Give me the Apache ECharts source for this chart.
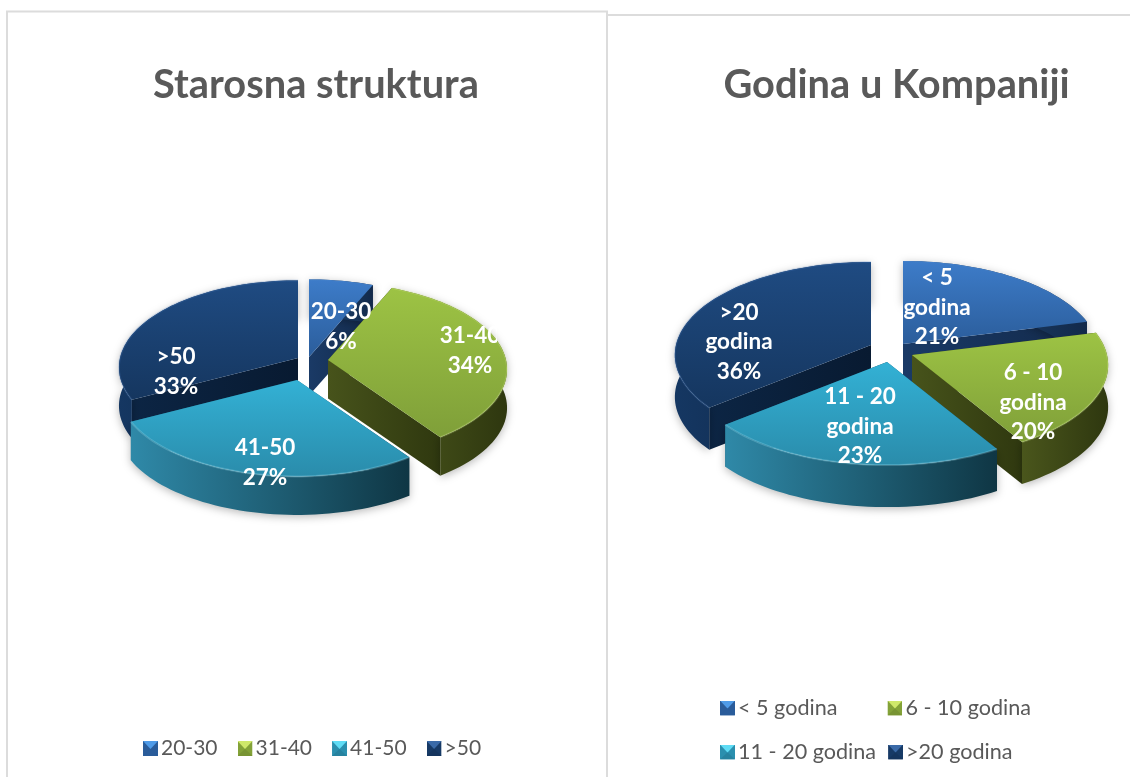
<!DOCTYPE html>
<html>
<head>
<meta charset="utf-8">
<style>html,body{margin:0;padding:0;background:#fff}#c{width:1130px;height:777px}</style>
<script src="https://cdn.jsdelivr.net/npm/echarts@6/dist/echarts.min.js"></script>
</head>
<body>
<div id="c"></div>
<script>
// ---- data (slice shares; labels show them rounded) ----
const ageTitle = 'Starosna struktura';
const ageCategories = ['20-30', '31-40', '41-50', '>50'];
const ageValues = [6.45, 33.8, 27.1, 32.65];
const tenureTitle = 'Godina u Kompaniji';
const tenureCategories = ['< 5 godina', '6 - 10 godina', '11 - 20 godina', '>20 godina'];
const tenureValues = [21, 20.45, 22.6, 35.95];

// ---- look (one entry per colour slot) ----
const palette = [
  {top: ['#3d7cc9', '#2b5d9b'], cut: ['#1a3a66', '#12294a'], wall: ['#24507f', '#12294a'], rim: 'rgba(255,255,255,0.03)', mark: ['#4f9be8', '#2a5c9a', '#2a5c9a']},
  {top: ['#9dc344', '#7f9f39'], cut: ['#47531b', '#2f380f'], wall: ['#4a561c', '#2e370f'], rim: 'rgba(225,245,150,0.22)', mark: ['#cfe86a', '#83a238', '#789433']},
  {top: ['#33b1d5', '#2a8cab'], cut: ['#1d6a84', '#123f50'], wall: ['#2f89a8', '#0f3644'], rim: 'rgba(170,235,250,0.25)', mark: ['#5fdcf5', '#2a8fae', '#26829f']},
  {top: ['#1f4b82', '#15365f'], cut: ['#0c2544', '#081a31'], wall: ['#153762', '#0b2342'], rim: 'rgba(80,130,200,0.2)', mark: ['#3a6aa8', '#173a66', '#15355e']}
];

// ---- layout of the two tilted pies ----
const agePie = {
  R: 178, Q: 86, p: 0.108, depth: 38.5,
  apex: [[309, 357], [328, 360], [297, 380], [298, 358]],
  label: [[341, 326.5], [470, 350.5], [265, 462.5], [176, 371.5]],
  clip: [null, [420, 300, 77, 90], null, null],
  order: [0, 2, 3, 1]          // painter's position of each slice
};
const tenurePie = {
  R: 195, Q: 92, p: 0.108, depth: 42,
  apex: [[903, 344], [912, 355], [887, 362], [871, 345]],
  label: [[937, 307.5], [1033, 402.5], [860, 426.5], [739, 342]],
  clip: [[903, 260, 100, 100], null, null, null],
  order: [0, 2, 3, 1]
};

function grad(c, horizontal) {
  return new echarts.graphic.LinearGradient(0, 0, horizontal ? 1 : 0, horizontal ? 0 : 1,
    [{offset: 0, color: c[0]}, {offset: 1, color: c[1]}]);
}

function project(cfg, apex, deg, drop) {
  const a = deg * Math.PI / 180, u = Math.sin(a), v = -Math.cos(a);
  const s = 1 / (1 - cfg.p * v);
  return [apex[0] + cfg.R * u * s, apex[1] + cfg.Q * v * s + drop];
}

function arc(cfg, apex, a0, a1, drop) {
  const pts = [], n = Math.max(2, Math.ceil((a1 - a0) / 2));
  for (let i = 0; i <= n; i++) pts.push(project(cfg, apex, a0 + (a1 - a0) * i / n, drop));
  return pts;
}

function makeSeries(categories, values, cfg) {
  const total = values.reduce((a, b) => a + b, 0);
  let acc = 0;
  return categories.map((name, idx) => {
    const a0 = acc / total * 360;
    acc += values[idx];
    const a1 = acc / total * 360;
    const look = palette[idx], apex = cfg.apex[idx], base = 10 * (cfg.order[idx] + 1);
    return {
      type: 'custom', name, coordinateSystem: 'none', silent: true, animation: false,
      clip: false,
      data: [[values[idx]]],
      renderItem(params, api) {
        const pct = Math.round(api.value(0) / total * 100);
        const topArc = arc(cfg, apex, a0, a1, 0);
        const botArc = arc(cfg, apex, a0, a1, cfg.depth);
        const low = [apex[0], apex[1] + cfg.depth];
        const face = (end, top) => ({
          type: 'polygon', z2: base,
          shape: {points: [apex, end, top, low]},
          style: {fill: grad(look.cut, true)}
        });
        const children = [
          face(topArc[0], botArc[0]),
          face(topArc[topArc.length - 1], botArc[botArc.length - 1]),
          {type: 'polygon', z2: base + 1,
            shape: {points: topArc.concat(botArc.slice().reverse())},
            style: {fill: grad(look.wall, true), shadowBlur: 9, shadowColor: 'rgba(0,0,0,0.28)', shadowOffsetY: 2}},
          {type: 'polygon', z2: base + 2,
            shape: {points: [apex].concat(topArc)},
            style: {fill: grad(look.top, false)}},
          {type: 'polyline', z2: base + 3,
            shape: {points: topArc},
            style: {fill: null, stroke: look.rim, lineWidth: 2}}
        ];
        const c = cfg.label[idx], box = cfg.clip[idx];
        const label = {
          type: 'text', z2: 200,
          style: {
            x: c[0], y: c[1],
            text: name.replace(' godina', '\ngodina') + '\n' + pct + '%',
            align: 'center', verticalAlign: 'middle',
            font: 'bold 22.5px Lato', lineHeight: 29.5, fill: '#ffffff'
          }
        };
        if (box) label.clipPath = {type: 'rect', shape: {x: box[0], y: box[1], width: box[2], height: box[3]}};
        children.push(label);
        return {type: 'group', children};
      }
    };
  });
}

function markerIcon(i) {
  const m = palette[i].mark;
  const svg = '<svg xmlns="http://www.w3.org/2000/svg" width="15" height="15">' +
    '<rect width="15" height="15" fill="' + m[1] + '"/>' +
    '<polygon points="0,0 15,0 7.5,8" fill="' + m[0] + '"/>' +
    '<polygon points="0,15 15,15 7.5,8" fill="' + m[2] + '"/></svg>';
  return 'image://data:image/svg+xml;charset=utf-8,' + encodeURIComponent(svg);
}

function legendOf(names, slots, left, top, itemGap, fontSize) {
  return {
    left, top, itemGap, itemWidth: 15, itemHeight: 15, icon: 'rect', padding: 0, selectedMode: false,
    data: names.map((n, k) => ({name: n, icon: markerIcon(slots[k])})),
    textStyle: {color: '#595959', fontFamily: 'Lato', fontSize, padding: [0, 0, 0, -2]}
  };
}

const chart = echarts.init(document.getElementById('c'), null, {renderer: 'canvas'});
chart.setOption({
  backgroundColor: '#ffffff',
  animation: false,
  title: [
    {text: ageTitle, left: 316, top: 65, padding: 0, textAlign: 'center',
      textStyle: {fontFamily: 'Lato', fontWeight: 'bold', fontSize: 39.8, color: '#595959'}},
    {text: tenureTitle, left: 896.5, top: 65, padding: 0, textAlign: 'center',
      textStyle: {fontFamily: 'Lato', fontWeight: 'bold', fontSize: 39.8, color: '#595959'}}
  ],
  legend: [
    legendOf(ageCategories, [0, 1, 2, 3], 143, 738, 20, 21),
    legendOf(tenureCategories.slice(0, 2), [0, 1], 720, 697, 50, 21.6),
    legendOf(tenureCategories.slice(2), [2, 3], 720, 741, 12, 21.6)
  ],
  graphic: [
    {type: 'polyline', silent: true, shape: {points: [[7, 777], [7, 11.5], [607, 11.5], [607, 777]]},
      style: {fill: null, stroke: '#dcdcdc', lineWidth: 2}},
    {type: 'polyline', silent: true, shape: {points: [[607, 15], [1130, 15]]},
      style: {fill: null, stroke: '#dcdcdc', lineWidth: 2}}
  ],
  series: makeSeries(ageCategories, ageValues, agePie).concat(makeSeries(tenureCategories, tenureValues, tenurePie))
});
</script>
</body>
</html>
